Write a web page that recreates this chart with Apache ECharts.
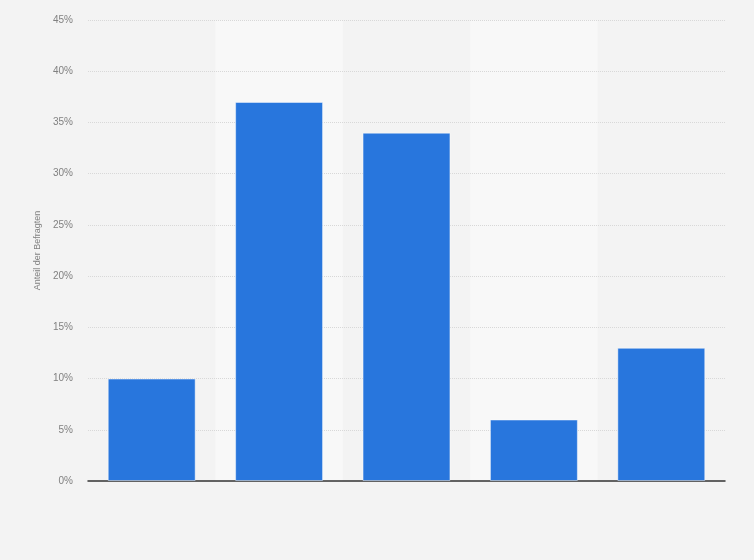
<!DOCTYPE html>
<html>
<head>
<meta charset="utf-8">
<script src="https://cdn.jsdelivr.net/npm/echarts@6/dist/echarts.min.js"></script>
<style>
  html, body { margin: 0; padding: 0; background: #f3f3f3; }
  #chart { width: 754px; height: 560px; }
</style>
</head>
<body>
<div id="chart"></div>
<script>
// Daten
const categories = ['A', 'B', 'C', 'D', 'E'];
const values = [10, 37, 34, 6, 13];
const yTicks = { min: 0, max: 45, interval: 5 };
const yAxisName = 'Anteil der Befragten';

const chart = echarts.init(document.getElementById('chart'), null, { renderer: 'canvas' });

chart.setOption({
    backgroundColor: '#f3f3f3',
    animation: false,
    textStyle: { fontFamily: '"Liberation Sans", Arial, sans-serif' },
    grid: { left: 88, right: 29, top: 20, bottom: 79 },
    xAxis: {
        type: 'category',
        data: categories,
        z: 0,
        axisLine: { lineStyle: { color: '#333', width: 1.5 } },
        axisTick: { show: false },
        axisLabel: { show: false },
        splitArea: {
            show: true,
            areaStyle: { color: ['rgba(0,0,0,0)', '#f8f8f8'] }
        }
    },
    yAxis: {
        type: 'value',
        min: yTicks.min,
        max: yTicks.max,
        interval: yTicks.interval,
        z: 1,
        name: yAxisName,
        nameLocation: 'middle',
        nameGap: 44,
        nameTextStyle: { color: '#808080', fontSize: 9 },
        axisLine: { show: false },
        axisTick: { show: false },
        axisLabel: { color: '#808080', fontSize: 10, margin: 15, formatter: v => v + '%' },
        splitLine: { showMinLine: false, lineStyle: { color: '#d8d8d8', type: [1, 1] } }
    },
    series: [{
        type: 'bar',
        data: values,
        barWidth: '69%',
        z: 2,
        itemStyle: {
            color: '#2876dd',
            borderColor: 'rgba(255,255,255,0.45)',
            borderWidth: 1
        }
    }]
});
</script>
</body>
</html>
